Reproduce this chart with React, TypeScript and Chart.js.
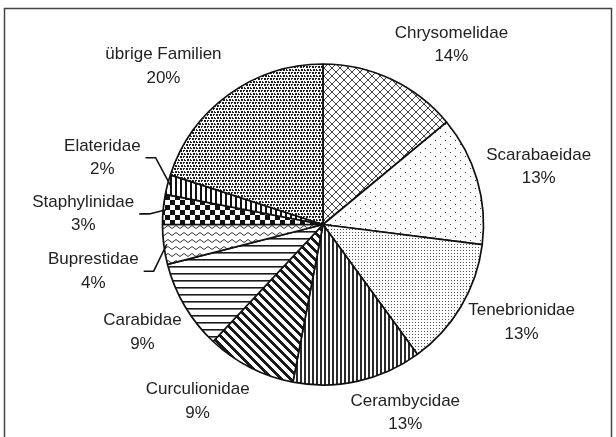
import React, { useEffect, useRef } from 'react';
import { Chart, registerables } from 'chart.js';

Chart.register(...registerables);

// ---- data ----
const families = [
  'Chrysomelidae',
  'Scarabaeidae',
  'Tenebrionidae',
  'Cerambycidae',
  'Curculionidae',
  'Carabidae',
  'Buprestidae',
  'Staphylinidae',
  'Elateridae',
  'übrige Familien',
];
const shares = [14, 13, 13, 13, 9, 9, 4, 3, 2, 20];

// label centres relative to the pie centre, in units of the pie radius
const labelOffsets: [number, number][] = [
  [0.8, -1.12],
  [1.344, -0.359],
  [1.2375, 0.609],
  [0.5125, 1.172],
  [-0.781, 1.103],
  [-1.125, 0.672],
  [-1.431, 0.291],
  [-1.494, -0.066],
  [-1.375, -0.416],
  [-0.994, -0.985],
];
const leaderLines = [false, false, false, false, false, false, true, true, true, false];

type Painter = (c: CanvasRenderingContext2D, w: number, h: number) => void;

function tile(ctx: CanvasRenderingContext2D, w: number, h: number, paint: Painter) {
  const cv = document.createElement('canvas');
  cv.width = w;
  cv.height = h;
  const c = cv.getContext('2d')!;
  c.fillStyle = '#ffffff';
  c.fillRect(0, 0, w, h);
  paint(c, w, h);
  return ctx.createPattern(cv, 'repeat')!;
}

function makePatterns(ctx: CanvasRenderingContext2D) {
  return [
    // Chrysomelidae: diagonal crosshatch
    tile(ctx, 8, 8, (c) => {
      c.fillStyle = '#444';
      for (let i = 0; i < 8; i++) {
        c.fillRect(i, i, 1, 1);
        c.fillRect(7 - i, i, 1, 1);
      }
    }),
    // Scarabaeidae: sparse dots
    tile(ctx, 10, 8, (c) => {
      c.fillStyle = '#444';
      c.fillRect(0, 0, 1, 1);
      c.fillRect(5, 4, 1, 1);
    }),
    // Tenebrionidae: fine dots
    tile(ctx, 3, 3, (c) => {
      c.fillStyle = '#555';
      c.fillRect(1, 1, 1, 1);
    }),
    // Cerambycidae: narrow vertical lines
    tile(ctx, 4, 1, (c) => {
      c.fillStyle = '#2a2a2a';
      c.fillRect(0, 0, 2, 1);
    }),
    // Curculionidae: wide downward diagonal
    tile(ctx, 9, 9, (c) => {
      c.fillStyle = '#1a1a1a';
      for (let y = 0; y < 9; y++) {
        for (let k = 0; k < 4; k++) c.fillRect((y + k) % 9, y, 1, 1);
      }
    }),
    // Carabidae: horizontal lines
    tile(ctx, 1, 7, (c) => {
      c.fillStyle = '#1a1a1a';
      c.fillRect(0, 0, 1, 1);
      c.fillStyle = '#777';
      c.fillRect(0, 1, 1, 1);
    }),
    // Buprestidae: zigzag
    tile(ctx, 8, 7, (c) => {
      c.strokeStyle = '#333';
      c.lineWidth = 1;
      c.beginPath();
      c.moveTo(0, 1.5);
      c.lineTo(4, 4.5);
      c.lineTo(8, 1.5);
      c.stroke();
    }),
    // Staphylinidae: large checkerboard
    tile(ctx, 10, 10, (c) => {
      c.fillStyle = '#111';
      c.fillRect(0, 0, 5, 5);
      c.fillRect(5, 5, 5, 5);
    }),
    // Elateridae: wide vertical stripes
    tile(ctx, 5, 1, (c) => {
      c.fillStyle = '#111';
      c.fillRect(0, 0, 2, 1);
    }),
    // übrige Familien: dense pebbles
    tile(ctx, 6, 6, (c) => {
      c.fillStyle = '#1e1e1e';
      c.fillRect(0, 0, 2, 2);
      c.fillRect(3, 0, 2, 1);
      c.fillRect(3, 1, 1, 1);
      c.fillRect(1, 3, 2, 2);
      c.fillRect(4, 3, 1, 2);
      c.fillRect(5, 4, 1, 1);
    }),
  ];
}

const FONT = '17px "Liberation Sans", Arial, sans-serif';

const framePlugin = {
  id: 'frame',
  beforeDraw(chart: any) {
    const { ctx, width, height } = chart;
    ctx.save();
    ctx.fillStyle = '#ffffff';
    ctx.fillRect(0, 0, width, height);
    ctx.strokeStyle = '#444';
    ctx.lineWidth = 1.5;
    ctx.beginPath();
    ctx.moveTo(4.5, height + 2);
    ctx.lineTo(4.5, 8.5);
    ctx.lineTo(611.5, 8.5);
    ctx.lineTo(611.5, height + 2);
    ctx.stroke();
    ctx.restore();
  },
};

const labelPlugin = {
  id: 'pieLabels',
  afterDatasetsDraw(chart: any) {
    const { ctx } = chart;
    const meta = chart.getDatasetMeta(0);
    const labels = chart.data.labels as string[];
    const values = chart.data.datasets[0].data as number[];
    ctx.save();
    ctx.font = FONT;
    ctx.fillStyle = '#222';
    ctx.textAlign = 'center';
    ctx.textBaseline = 'middle';
    const lh = 23.5;
    meta.data.forEach((arc: any, i: number) => {
      const { x, y, outerRadius, startAngle, endAngle } = arc.getProps(
        ['x', 'y', 'outerRadius', 'startAngle', 'endAngle'],
        true
      );
      const [ox, oy] = labelOffsets[i];
      const cx = x + ox * outerRadius;
      const cy = y + oy * outerRadius;
      const name = labels[i];
      const pct = values[i] + '%';
      ctx.fillText(name, cx, cy - lh / 2);
      ctx.fillText(pct, cx, cy + lh / 2);
      if (leaderLines[i]) {
        const w = ctx.measureText(name).width;
        const sx = cx + w / 2 + 5;
        const mid = (startAngle + endAngle) / 2;
        const ex = x + Math.cos(mid) * (outerRadius - 3);
        const ey = y + Math.sin(mid) * (outerRadius - 3);
        ctx.strokeStyle = '#111';
        ctx.lineWidth = 1.6;
        ctx.beginPath();
        ctx.moveTo(sx, cy);
        ctx.lineTo(sx + 10, cy);
        ctx.lineTo(ex, ey);
        ctx.stroke();
      }
    });
    ctx.restore();
  },
};

export default function App() {
  const ref = useRef<HTMLCanvasElement | null>(null);
  useEffect(() => {
    const canvas = ref.current!;
    const ctx = canvas.getContext('2d')!;
    const patterns = makePatterns(ctx);
    const chart = new Chart(canvas, {
      type: 'pie',
      data: {
        labels: families,
        datasets: [
          {
            data: shares,
            backgroundColor: patterns as any,
            borderColor: '#111',
            borderWidth: 1.7,
          },
        ],
      },
      options: {
        animation: false,
        responsive: false,
        maintainAspectRatio: false,
        radius: 160.5,
        layout: { padding: { left: 163, right: 133, top: 64, bottom: 52 } },
        plugins: {
          legend: { display: false },
          tooltip: { enabled: false },
        },
      } as any,
      plugins: [framePlugin, labelPlugin],
    });
    return () => chart.destroy();
  }, []);
  return (
    <div style={{ position: 'fixed', left: 0, top: 0, width: 616, height: 437, background: '#fff' }}>
      <canvas ref={ref} width={616} height={437} style={{ display: 'block', width: 616, height: 437 }} />
    </div>
  );
}
